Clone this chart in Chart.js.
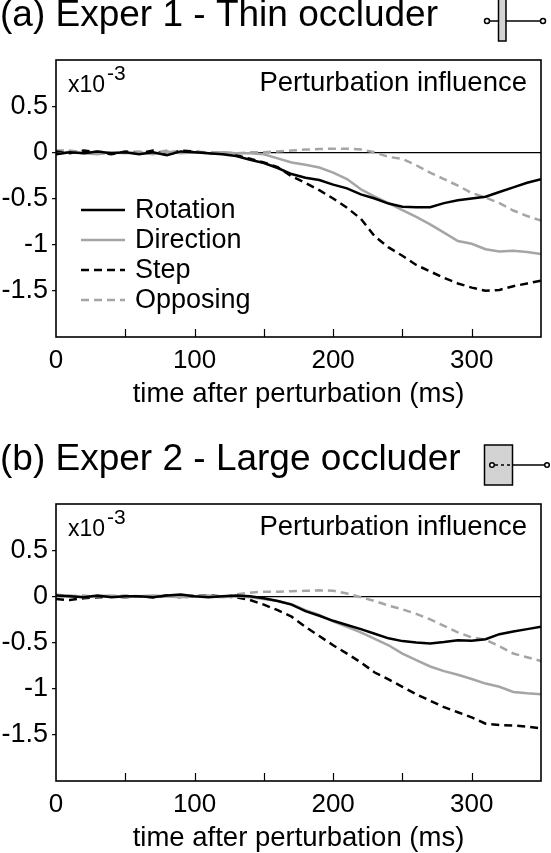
<!DOCTYPE html>
<html lang="en">
<head>
  <meta charset="UTF-8">
  <title>Perturbation influence</title>
  <script src="https://cdn.jsdelivr.net/npm/chart.js"></script>
  <style>
    html, body { margin: 0; padding: 0; background: #fff; overflow: hidden; }
    .panel { position: absolute; left: 0; width: 551px; height: 444px; }
  </style>
</head>
<body>
  <div class="panel" style="top:0"><canvas id="chartA"></canvas></div>
  <div class="panel" style="top:444px"><canvas id="chartB"></canvas></div>
  <script>
    // time after perturbation (ms), sampled every 10 ms
    const times = [0, 10, 20, 30, 40, 50, 60, 70, 80, 90, 100, 110, 120, 130, 140, 150, 160, 170,
      180, 190, 200, 210, 220, 230, 240, 250, 260, 270, 280, 290, 300, 310, 320, 330, 340, 350];

    // values in units of 1e-3
    // Exper 1 - thin occluder
    const rotationA = [-0.02, 0.00, -0.01, 0.01, -0.01, 0.00, -0.02, 0.00, -0.03, 0.01, 0.00, -0.01, -0.02, -0.04, -0.08, -0.115, -0.17, -0.235,
      -0.275, -0.30, -0.35, -0.39, -0.455, -0.50, -0.555, -0.59, -0.595, -0.595, -0.55, -0.52, -0.50, -0.48, -0.43, -0.38, -0.33, -0.29];
    const directionA = [-0.02, 0.01, -0.01, -0.02, 0.00, -0.01, 0.00, -0.02, 0.01, -0.01, 0.00, -0.01, 0.00, -0.01, -0.01, -0.02, -0.065, -0.11,
      -0.135, -0.165, -0.22, -0.29, -0.40, -0.48, -0.55, -0.625, -0.70, -0.78, -0.87, -0.96, -0.99, -1.05, -1.075, -1.065, -1.08, -1.10];
    const stepA = [0.01, -0.01, 0.02, 0.00, -0.02, 0.01, -0.01, 0.02, -0.03, 0.02, 0.01, -0.01, -0.01, -0.03, -0.07, -0.11, -0.16, -0.26,
      -0.33, -0.41, -0.50, -0.60, -0.72, -0.91, -1.03, -1.12, -1.22, -1.29, -1.36, -1.42, -1.465, -1.50, -1.49, -1.45, -1.42, -1.39];
    const opposingA = [0.02, 0.02, 0.00, 0.01, -0.01, 0.00, 0.01, -0.01, 0.02, 0.00, 0.01, 0.00, 0.00, -0.01, 0.00, 0.00, 0.01, 0.02,
      0.03, 0.035, 0.04, 0.04, 0.03, 0.00, -0.05, -0.07, -0.14, -0.22, -0.29, -0.36, -0.44, -0.49, -0.55, -0.63, -0.69, -0.74];

    // Exper 2 - large occluder
    const rotationB = [0.01, 0.00, -0.01, 0.01, -0.01, 0.00, 0.00, -0.01, 0.01, 0.02, 0.00, -0.01, 0.00, 0.01, 0.00, -0.02, -0.05, -0.09,
      -0.16, -0.21, -0.265, -0.31, -0.355, -0.405, -0.455, -0.485, -0.50, -0.51, -0.495, -0.476, -0.482, -0.465, -0.41, -0.38, -0.355, -0.33];
    const directionB = [0.00, 0.01, -0.01, 0.00, 0.01, -0.01, 0.00, 0.01, 0.00, -0.01, 0.00, 0.01, -0.01, 0.00, -0.01, -0.03, -0.05, -0.085,
      -0.15, -0.20, -0.27, -0.33, -0.39, -0.46, -0.53, -0.62, -0.69, -0.76, -0.81, -0.85, -0.895, -0.945, -0.98, -1.035, -1.05, -1.06];
    const stepB = [-0.03, -0.04, -0.02, -0.01, 0.00, -0.01, 0.00, -0.01, 0.01, -0.01, 0.00, 0.01, 0.00, -0.01, -0.04, -0.09, -0.15, -0.22,
      -0.33, -0.43, -0.53, -0.62, -0.715, -0.825, -0.90, -0.98, -1.06, -1.13, -1.20, -1.255, -1.31, -1.38, -1.395, -1.40, -1.41, -1.43];
    const opposingB = [0.02, 0.00, 0.01, -0.01, 0.00, 0.01, 0.00, -0.01, 0.01, 0.00, 0.01, 0.00, -0.01, 0.02, 0.04, 0.05, 0.05, 0.055,
      0.06, 0.065, 0.06, 0.03, -0.01, -0.05, -0.10, -0.14, -0.19, -0.25, -0.32, -0.39, -0.445, -0.47, -0.54, -0.62, -0.66, -0.70];

    const seriesNames = ['Rotation', 'Direction', 'Step', 'Opposing'];
    const yTicks = [0.5, 0, -0.5, -1, -1.5];
    const yTickLabels = ['0.5', '0', '-0.5', '-1', '-1.5'];
    const xTickLabels = ['0', '100', '200', '300'];

    const FONT = '"Liberation Sans", Arial, Helvetica, sans-serif';
    Chart.defaults.font.family = FONT;
    Chart.defaults.color = '#000';

    const GRAY = '#a5a5a5';
    const styles = [
      { color: '#000', dash: [] },
      { color: GRAY, dash: [] },
      { color: '#000', dash: [8, 5] },
      { color: GRAY, dash: [8, 5] }
    ];

    function makeDatasets(series) {
      return series.map((vals, i) => ({
        label: seriesNames[i],
        data: times.map((t, j) => ({ x: t, y: vals[j] })),
        borderColor: styles[i].color,
        borderDash: styles[i].dash,
        borderWidth: 2.5,
        pointRadius: 0,
        tension: 0,
        fill: false
      }));
    }

    // box, inner ticks, texts, legend and the little occluder icon
    const decor = {
      id: 'decor',
      afterDraw(chart, args, opts) {
        const ctx = chart.ctx;
        const a = chart.chartArea;
        const xs = chart.scales.x;
        ctx.save();

        // inner ticks on the x axis
        ctx.strokeStyle = '#000';
        ctx.lineWidth = 1.2;
        ctx.setLineDash([]);
        for (let v = 50; v <= 300; v += 50) {
          const px = Math.round(xs.getPixelForValue(v)) + 0.5;
          ctx.beginPath();
          ctx.moveTo(px, a.bottom);
          ctx.lineTo(px, a.bottom - 8);
          ctx.stroke();
        }

        // frame
        ctx.lineWidth = 1.6;
        ctx.strokeRect(a.left, a.top, a.right - a.left, a.bottom - a.top);

        // panel title
        ctx.fillStyle = '#000';
        ctx.textBaseline = 'alphabetic';
        ctx.textAlign = 'left';
        ctx.font = '37px ' + FONT;
        ctx.fillText(opts.title, 0, 26);

        // scale factor and label inside the frame
        ctx.textBaseline = 'middle';
        ctx.font = '23px ' + FONT;
        ctx.fillText('x10', a.left + 12, a.top + 26);
        ctx.font = '21px ' + FONT;
        ctx.fillText('-3', a.left + 51, a.top + 14);
        ctx.textAlign = 'right';
        ctx.font = '27.5px ' + FONT;
        ctx.fillText('Perturbation influence', a.right - 14, a.top + 23);

        // legend
        if (opts.legend) {
          ctx.textAlign = 'left';
          ctx.font = '27px ' + FONT;
          chart.data.datasets.forEach((ds, i) => {
            const y = a.top + 150 + i * 30;
            ctx.strokeStyle = ds.borderColor;
            ctx.lineWidth = 2.5;
            ctx.setLineDash(ds.borderDash);
            ctx.beginPath();
            ctx.moveTo(a.left + 25, y);
            ctx.lineTo(a.left + 69, y);
            ctx.stroke();
            ctx.fillStyle = '#000';
            ctx.fillText(ds.label, a.left + 79, y + 1);
          });
          ctx.setLineDash([]);
        }

        // occluder icon
        ctx.strokeStyle = '#000';
        ctx.fillStyle = '#d3d3d3';
        ctx.lineWidth = 1.5;
        ctx.setLineDash([]);
        const cy = 21;
        if (opts.icon === 'thin') {
          ctx.beginPath(); ctx.moveTo(487, cy); ctx.lineTo(543, cy); ctx.stroke();
          ctx.fillRect(498.5, -2, 7.5, 43);
          ctx.strokeRect(498.5, -2, 7.5, 43);
          [487, 543].forEach(cx => {
            ctx.beginPath(); ctx.arc(cx, cy, 2.5, 0, Math.PI * 2);
            ctx.fillStyle = '#fff'; ctx.fill(); ctx.stroke();
          });
        } else {
          ctx.fillRect(484.5, 1, 28, 40);
          ctx.strokeRect(484.5, 1, 28, 40);
          ctx.beginPath(); ctx.moveTo(512.5, cy); ctx.lineTo(545, cy); ctx.stroke();
          ctx.setLineDash([3, 3]);
          ctx.beginPath(); ctx.moveTo(495, cy); ctx.lineTo(512, cy); ctx.stroke();
          ctx.setLineDash([]);
          [492, 547].forEach(cx => {
            ctx.beginPath(); ctx.arc(cx, cy, 2.3, 0, Math.PI * 2);
            ctx.fillStyle = '#fff'; ctx.fill(); ctx.stroke();
          });
        }
        ctx.restore();
      }
    };

    function makeChart(id, series, title, icon, legend) {
      return new Chart(document.getElementById(id), {
        type: 'line',
        data: { datasets: makeDatasets(series) },
        plugins: [decor],
        options: {
          responsive: true,
          maintainAspectRatio: false,
          animation: false,
          devicePixelRatio: 1,
          layout: { padding: { left: 0, right: 10, top: 60, bottom: 0 } },
          plugins: {
            legend: { display: false },
            tooltip: { enabled: false },
            decor: { title: title, icon: icon, legend: legend }
          },
          scales: {
            x: {
              type: 'linear',
              min: 0,
              max: 350,
              afterFit: s => { s.height = 107; },
              grid: { display: false, drawTicks: false },
              border: { display: false },
              ticks: {
                stepSize: 50,
                autoSkip: false,
                maxRotation: 0,
                padding: 8,
                font: { size: 26 },
                callback: v => xTickLabels.includes(String(v)) ? String(v) : ''
              },
              title: {
                display: true,
                text: 'time after perturbation (ms)',
                font: { size: 27.5 },
                padding: { top: 0, bottom: 33 }
              }
            },
            y: {
              min: -2,
              max: 1,
              afterFit: s => { s.width = 56; },
              afterBuildTicks: s => { s.ticks = yTicks.map(v => ({ value: v })); },
              grid: {
                color: c => (c.tick && c.tick.value === 0) ? '#000' : 'rgba(0,0,0,0)',
                lineWidth: 1.3,
                tickColor: '#000',
                tickLength: 4,
                tickWidth: 1.2
              },
              border: { display: false },
              ticks: {
                padding: 4,
                font: { size: 27 },
                callback: v => yTickLabels[yTicks.indexOf(v)]
              }
            }
          }
        }
      });
    }

    makeChart('chartA', [rotationA, directionA, stepA, opposingA], '(a) Exper 1 - Thin occluder', 'thin', true);
    makeChart('chartB', [rotationB, directionB, stepB, opposingB], '(b) Exper 2 - Large occluder', 'large', false);
  </script>
</body>
</html>
